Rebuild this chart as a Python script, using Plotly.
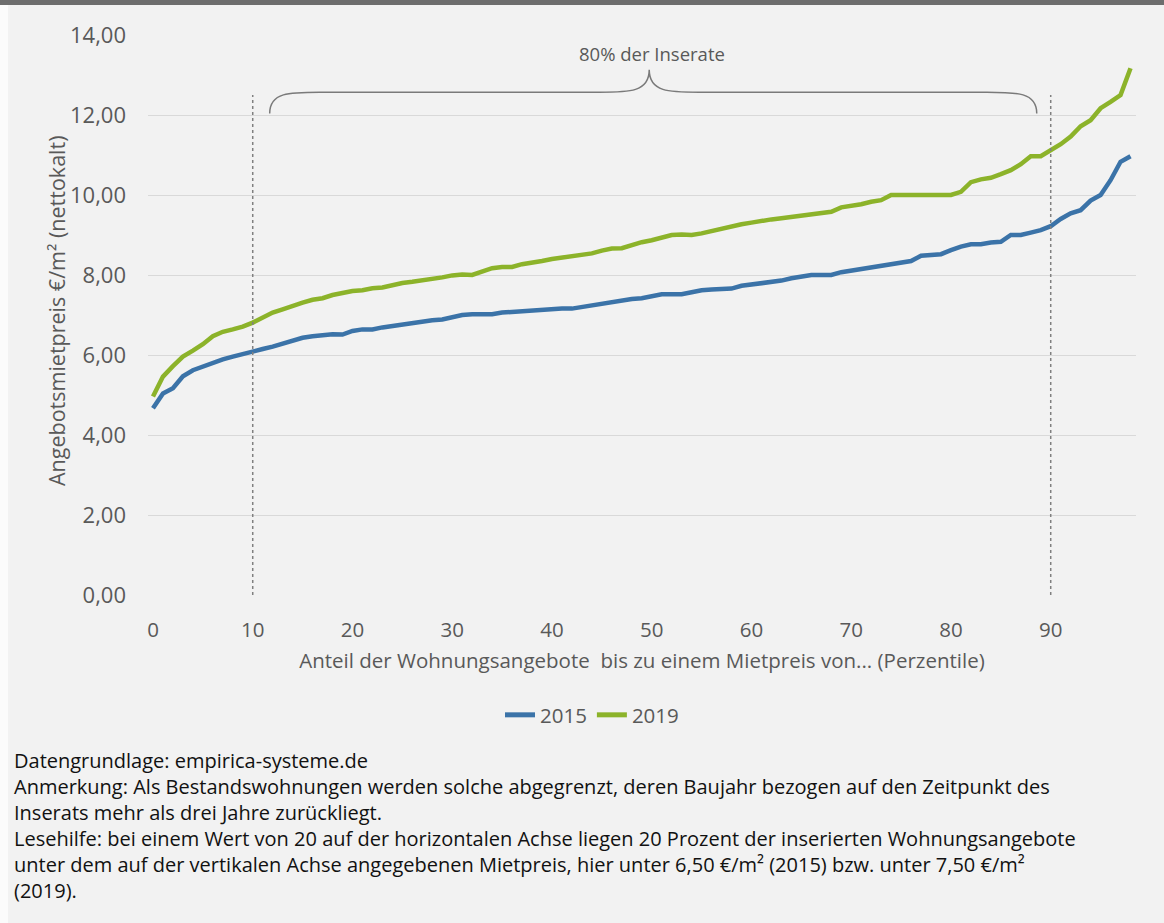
import plotly.graph_objects as go

percentiles = list(range(0, 99))

rent_2015 = [4.67, 5.04, 5.17, 5.47, 5.62, 5.72, 5.81, 5.89, 5.96, 6.03,
             6.09, 6.15, 6.21, 6.29, 6.37, 6.43, 6.47, 6.50, 6.52, 6.51,
             6.60, 6.64, 6.64, 6.69, 6.73, 6.76, 6.80, 6.85, 6.87, 6.89,
             6.94, 7.00, 7.02, 7.02, 7.02, 7.06, 7.08, 7.10, 7.12, 7.13,
             7.15, 7.16, 7.16, 7.20, 7.24, 7.29, 7.33, 7.38, 7.40, 7.42,
             7.46, 7.52, 7.52, 7.52, 7.57, 7.62, 7.64, 7.66, 7.66, 7.73,
             7.76, 7.80, 7.83, 7.86, 7.92, 7.96, 8.00, 8.00, 8.00, 8.07,
             8.11, 8.15, 8.21, 8.25, 8.27, 8.32, 8.35, 8.48, 8.50, 8.52,
             8.62, 8.71, 8.77, 8.77, 8.81, 8.83, 9.00, 9.00, 9.06, 9.12,
             9.22, 9.40, 9.54, 9.62, 9.86, 10.00, 10.37, 10.83, 10.97]

rent_2019 = [4.96, 5.46, 5.72, 5.96, 6.11, 6.27, 6.47, 6.58, 6.64, 6.71,
             6.81, 6.94, 7.06, 7.14, 7.23, 7.31, 7.38, 7.42, 7.50, 7.56,
             7.60, 7.62, 7.67, 7.69, 7.75, 7.80, 7.83, 7.86, 7.89, 7.94,
             7.99, 8.01, 8.00, 8.08, 8.17, 8.20, 8.20, 8.27, 8.30, 8.35,
             8.40, 8.43, 8.47, 8.50, 8.54, 8.61, 8.66, 8.67, 8.75, 8.82,
             8.87, 8.94, 9.00, 9.01, 9.00, 9.04, 9.10, 9.15, 9.20, 9.27,
             9.31, 9.36, 9.39, 9.42, 9.45, 9.49, 9.52, 9.56, 9.58, 9.69,
             9.72, 9.77, 9.83, 9.87, 10.00, 10.00, 10.00, 10.00, 10.00, 10.00,
             10.00, 10.08, 10.32, 10.39, 10.43, 10.52, 10.62, 10.77, 10.97, 10.97,
             11.12, 11.27, 11.46, 11.72, 11.87, 12.17, 12.33, 12.50, 13.17]

y_ticks = [0, 2, 4, 6, 8, 10, 12, 14]
y_tick_labels = ["0,00", "2,00", "4,00", "6,00", "8,00", "10,00", "12,00", "14,00"]
x_ticks = [0, 10, 20, 30, 40, 50, 60, 70, 80, 90]

series_names = ["2015", "2019"]
series_colors = ["#3b73a8", "#8cb32a"]

band_low, band_high = 10, 90
band_label = "80% der Inserate"

notes = [
    "Datengrundlage: empirica-systeme.de",
    "Anmerkung: Als Bestandswohnungen werden solche abgegrenzt, deren Baujahr bezogen auf den Zeitpunkt des",
    "Inserats mehr als drei Jahre zurückliegt.",
    "Lesehilfe: bei einem Wert von 20 auf der horizontalen Achse liegen 20 Prozent der inserierten Wohnungsangebote",
    "unter dem auf der vertikalen Achse angegebenen Mietpreis, hier unter 6,50 €/m² (2015) bzw. unter 7,50 €/m²",
    "(2019).",
]

W, H = 1164, 923
ML, MR, MT, MB = 148, 28, 35, 328
PW = W - ML - MR
PH = H - MT - MB
BG = "#f2f2f2"
AXIS_FONT = "Open Sans, DejaVu Sans, sans-serif"
TEXT_GREY = "#595959"


def px_to_paper_x(px):
    return (px - ML) / PW


def px_to_paper_y(py):
    return (H - MB - py) / PH


fig = go.Figure()
for name, vals, col in zip(series_names, [rent_2015, rent_2019], series_colors):
    fig.add_trace(go.Scatter(x=percentiles, y=vals, mode="lines", name=name,
                             line=dict(color=col, width=4.5)))

# dotted boundary lines of the 80% band
for xv in (band_low, band_high):
    fig.add_shape(type="line", xref="x", yref="y", x0=xv, x1=xv, y0=0, y1=12.5,
                  line=dict(color="#808080", width=1.5, dash="dot"))

# curly brace over the band
bl, br = band_low + 1.7, band_high - 1.4
bm = (band_low + band_high) / 2 - 0.25
yb, yt, yc = 12.04, 12.57, 13.13
path = (f"M {bl},{yb} C {bl},{yt} {bl+2},{yt} {bl+5},{yt} "
        f"L {bm-5},{yt} C {bm-2},{yt} {bm},{yt} {bm},{yc} "
        f"C {bm},{yt} {bm+2},{yt} {bm+5},{yt} "
        f"L {br-5},{yt} C {br-2},{yt} {br},{yt} {br},{yb}")
fig.add_shape(type="path", xref="x", yref="y", path=path,
              line=dict(color="#7a7a7a", width=1.5))

fig.add_annotation(x=bm + 0.3, y=13.55, xref="x", yref="y", text=band_label,
                   showarrow=False, font=dict(family=AXIS_FONT, size=18.5, color=TEXT_GREY))

# y axis title
fig.add_annotation(x=px_to_paper_x(56), y=px_to_paper_y(311), xref="paper", yref="paper",
                   xanchor="center", yanchor="middle",
                   text="Angebotsmietpreis €/m² (nettokalt)", textangle=-90,
                   showarrow=False, font=dict(family=AXIS_FONT, size=21.5, color=TEXT_GREY))

# notes below (one multi-line text block)
fig.add_annotation(x=px_to_paper_x(12), y=px_to_paper_y(745), xref="paper", yref="paper",
                   text="<br>".join(notes), showarrow=False, xanchor="left", yanchor="top",
                   align="left",
                   font=dict(family="Open Sans, sans-serif", size=20, color="#111111"))

# frame decorations: top dark bar and left white strip
fig.add_shape(type="rect", xref="paper", yref="paper",
              x0=px_to_paper_x(0), x1=px_to_paper_x(W), y0=px_to_paper_y(5), y1=px_to_paper_y(0),
              fillcolor="#6d6d6d", line=dict(width=0), layer="below")
fig.add_shape(type="rect", xref="paper", yref="paper",
              x0=px_to_paper_x(0), x1=px_to_paper_x(8), y0=px_to_paper_y(H), y1=px_to_paper_y(5),
              fillcolor="#fbfbfb", line=dict(width=0), layer="below")

fig.update_layout(
    width=W, height=H,
    margin=dict(l=ML, r=MR, t=MT, b=MB),
    paper_bgcolor=BG, plot_bgcolor=BG,
    showlegend=True,
    legend=dict(orientation="h", x=px_to_paper_x(592), xanchor="center",
                y=px_to_paper_y(715), yanchor="middle",
                font=dict(family=AXIS_FONT, size=20.5, color=TEXT_GREY),
                itemwidth=30, bgcolor="rgba(0,0,0,0)", tracegroupgap=0,
                itemsizing="constant"),
    xaxis=dict(range=[-0.5, 98.55], tickmode="array", tickvals=x_ticks,
               showgrid=False, zeroline=False, showline=False, ticks="",
               tickfont=dict(family=AXIS_FONT, size=20.5, color=TEXT_GREY),
               ticklabelstandoff=20,
               title=dict(text="Anteil der Wohnungsangebote  bis zu einem Mietpreis von... (Perzentile)",
                          font=dict(family=AXIS_FONT, size=20.5, color=TEXT_GREY), standoff=12)),
    yaxis=dict(range=[0, 14], tickmode="array", tickvals=y_ticks, ticktext=y_tick_labels,
               showgrid=True, gridcolor="#d9d9d9", gridwidth=1.2, zeroline=False,
               showline=False, ticks="",
               tickfont=dict(family=AXIS_FONT, size=22, color=TEXT_GREY),
               ticklabelstandoff=21),
)

fig.write_html("out.html", config={"displayModeBar": False},
               post_script="document.body.style.margin='0';")
